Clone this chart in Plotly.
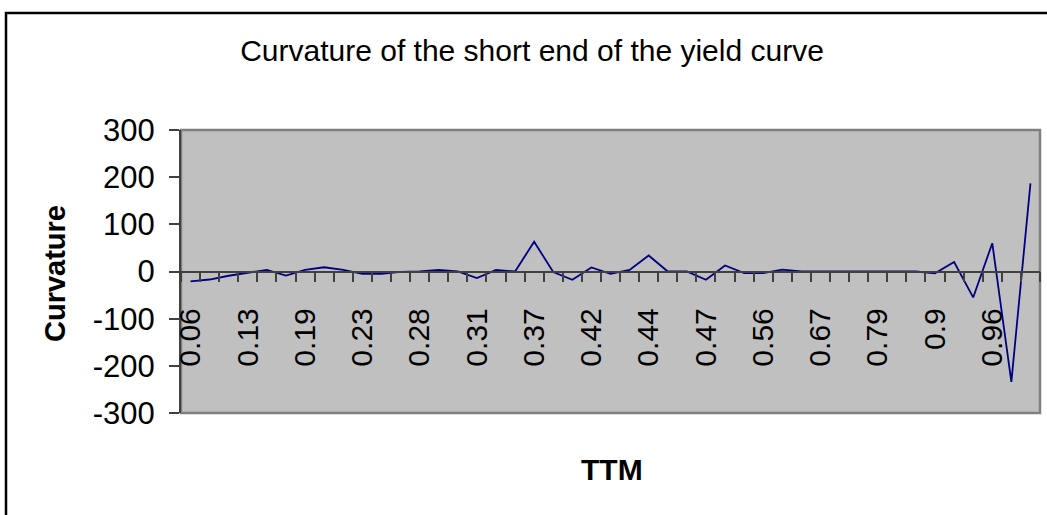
import plotly.graph_objects as go

# time to maturity labels (only every third one is printed on the axis)
ttm = ["0.06", "0.08", "0.11", "0.13", "0.15", "0.17", "0.19", "0.2", "0.22", "0.23",
       "0.25", "0.26", "0.28", "0.29", "0.3", "0.31", "0.33", "0.35", "0.37", "0.39",
       "0.41", "0.42", "0.43", "0.43", "0.44", "0.45", "0.46", "0.47", "0.5", "0.53",
       "0.56", "0.6", "0.63", "0.67", "0.71", "0.75", "0.79", "0.83", "0.86", "0.9",
       "0.92", "0.94", "0.96", "0.98", "1.0"]

curvature = [-21, -17, -9, -2, 3.5, -8.5, 3.5, 9, 3.5, -5,
             -5, -1, 0, 3.5, 0, -14, 3.5, 0, 63, -1,
             -17.6, 8.5, -5, 3.5, 34, 0, 0, -17.6, 12.7, -3.5,
             -3.5, 4, 0, 0, 0, 0, 0, 0, 0, -4,
             20, -55, 60, -234, 187]

y_ticks = [-300, -200, -100, 0, 100, 200, 300]

W, H = 1047, 515
L, R, T, B = 181, 7, 130, 102
pw, ph = W - L - R, H - T - B

FONT = "Liberation Sans, Arial, sans-serif"

idx = list(range(len(ttm)))

fig = go.Figure()
fig.add_trace(go.Scatter(
    x=idx, y=curvature, mode="lines",
    line=dict(color="#000080", width=1.8),
    hoverinfo="y",
))

fig.update_layout(
    width=W, height=H,
    margin=dict(l=L, r=R, t=T, b=B, autoexpand=False),
    paper_bgcolor="white",
    plot_bgcolor="#C0C0C0",
    showlegend=False,
    font=dict(family=FONT, color="black", size=30),
    title=dict(text="Curvature of the short end of the yield curve",
               x=532 / W, xanchor="center", xref="container",
               y=1 - 50 / H, yanchor="middle", yref="container",
               font=dict(size=30)),
    xaxis=dict(
        range=[-0.5, len(ttm) - 0.5],
        tickmode="array", tickvals=idx[::3], ticktext=ttm[::3],
        tickangle=-90, tickfont=dict(size=30),
        # invisible major ticks push the labels away from the zero line
        ticks="outside", ticklen=24, tickcolor="rgba(0,0,0,0)",
        minor=dict(tick0=-0.5, dtick=1, ticks="outside", ticklen=10,
                   tickcolor="#404040", tickwidth=1.5, showgrid=False),
        showgrid=False, zeroline=False,
        showline=True, linecolor="#404040", linewidth=1.5,
        anchor="free", position=0.5,
        automargin=False, fixedrange=True,
    ),
    yaxis=dict(
        range=[-300, 300], tickmode="array", tickvals=y_ticks,
        ticktext=[str(v) for v in y_ticks],
        ticks="outside", ticklen=10, tickcolor="#404040", tickwidth=1.5,
        ticklabelstandoff=8,
        tickfont=dict(size=31),
        showgrid=False, zeroline=False,
        showline=True, linecolor="#404040", linewidth=2,
        automargin=False, fixedrange=True,
    ),
)

# grey frame of the plot area
fig.add_shape(type="rect", xref="paper", yref="paper", x0=0, x1=1, y0=0, y1=1,
              line=dict(color="#808080", width=2.5), layer="below")

# outer chart border
fig.add_shape(type="rect", xref="paper", yref="paper",
              x0=(6 - L) / pw, x1=(W + 5 - L) / pw,
              y0=(H - B - (H + 5)) / ph, y1=(H - B - 13) / ph,
              line=dict(color="black", width=2.5))

fig.add_annotation(text="<b>Curvature</b>", xref="paper", yref="paper",
                   x=(55 - L) / pw, y=(H - B - 274) / ph, textangle=-90,
                   xanchor="center", yanchor="middle",
                   showarrow=False, font=dict(size=29))
fig.add_annotation(text="<b>TTM</b>", xref="paper", yref="paper",
                   x=(612 - L) / pw, y=(H - B - 469) / ph,
                   xanchor="center", yanchor="middle",
                   showarrow=False, font=dict(size=30))

fig.write_html("out.html", config={"displayModeBar": False},
               post_script="document.body.style.margin = '0';")
